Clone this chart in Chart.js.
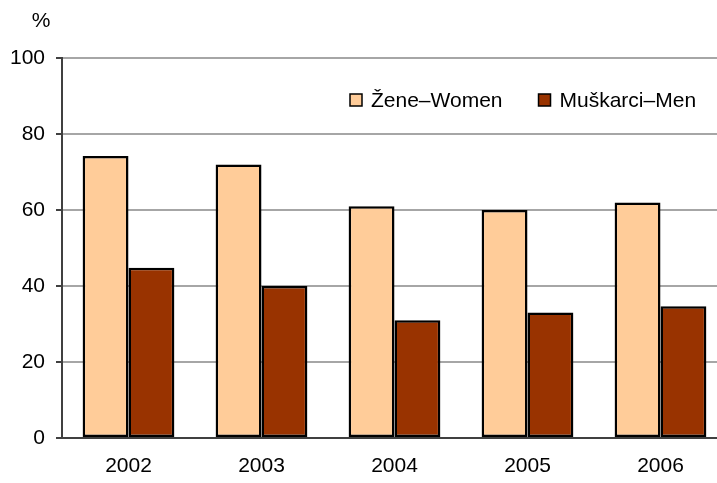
<!DOCTYPE html>
<html>
<head>
<meta charset="utf-8">
<script src="https://cdn.jsdelivr.net/npm/chart.js@4"></script>
<style>
  html, body { margin: 0; padding: 0; overflow: hidden; background: #fff; width: 717px; height: 483px; }
  canvas { display: block; }
</style>
</head>
<body>
<canvas id="c" width="728" height="483"></canvas>
<script>
// Share (%) by year, women and men
const years = ['2002', '2003', '2004', '2005', '2006'];
const women = [74.2, 72, 61, 60, 62];
const men = [44.8, 40, 31, 33, 34.7];
const seriesLabels = ['Žene–Women', 'Muškarci–Men'];
const seriesColors = ['#FFCC99', '#993300'];
const yTicks = [0, 20, 40, 60, 80, 100];
const unitLabel = '%';

const FONT = '"Liberation Sans", Arial, sans-serif';
const FONT_SIZE = 21;

// Legend drawn inside the plot area, in one row
const innerLegend = {
  id: 'innerLegend',
  afterDraw(chart) {
    const ctx = chart.ctx;
    ctx.save();
    ctx.font = FONT_SIZE + 'px ' + FONT;
    ctx.textBaseline = 'middle';
    ctx.textAlign = 'left';
    let x = 350;
    const yMid = 100;
    chart.data.datasets.forEach(ds => {
      ctx.fillStyle = ds.backgroundColor;
      ctx.fillRect(x, yMid - 6, 12, 12);
      ctx.strokeStyle = '#000';
      ctx.lineWidth = 1.5;
      ctx.strokeRect(x, yMid - 6, 12, 12);
      ctx.fillStyle = '#000';
      ctx.fillText(ds.label, x + 21, yMid + 1);
      x += 21 + ctx.measureText(ds.label).width + 36;
    });
    // unit label above the value axis
    ctx.textAlign = 'center';
    ctx.fillText(unitLabel, 41, 21);
    ctx.restore();
  }
};

const barStyle = {
  borderColor: '#000',
  borderWidth: 2.5,
  borderSkipped: false,
  barPercentage: 1,
  categoryPercentage: 0.69
};

new Chart(document.getElementById('c'), {
  type: 'bar',
  data: {
    labels: years,
    datasets: [
      Object.assign({ label: seriesLabels[0], data: women, backgroundColor: seriesColors[0] }, barStyle),
      Object.assign({ label: seriesLabels[1], data: men, backgroundColor: seriesColors[1] }, barStyle)
    ]
  },
  options: {
    responsive: false,
    animation: false,
    devicePixelRatio: 1,
    layout: { padding: { top: 58, right: 1, bottom: 0, left: 0 } },
    plugins: {
      legend: { display: false },
      tooltip: { enabled: false }
    },
    scales: {
      x: {
        grid: { display: false, drawTicks: false },
        border: { display: true, color: '#404040', width: 2 },
        ticks: {
          color: '#000',
          padding: 16,
          font: { family: FONT, size: FONT_SIZE }
        },
        afterFit(scale) { scale.height = 45; }
      },
      y: {
        min: 0,
        max: 100,
        afterBuildTicks(scale) { scale.ticks = yTicks.map(v => ({ value: v })); },
        afterFit(scale) { scale.width = 62; },
        grid: {
          color: c => (c.tick && c.tick.value === 0) ? '#404040' : '#a6a6a6',
          lineWidth: 2,
          tickLength: 6,
          tickColor: '#404040'
        },
        border: { display: true, color: '#404040', width: 2 },
        ticks: {
          color: '#000',
          padding: 11,
          font: { family: FONT, size: FONT_SIZE }
        }
      }
    }
  },
  plugins: [innerLegend]
});
</script>
</body>
</html>
